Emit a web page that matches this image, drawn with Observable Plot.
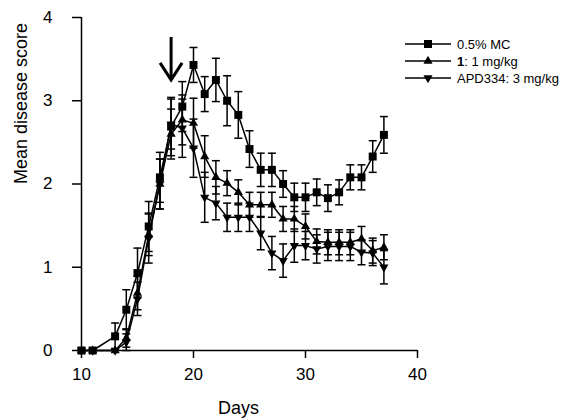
<!DOCTYPE html>
<html><head><meta charset="utf-8">
<script src="https://cdn.jsdelivr.net/npm/d3@7"></script>
<script src="https://cdn.jsdelivr.net/npm/@observablehq/plot@0.6"></script>
<style>body{margin:0;background:#fff}</style>
</head><body><div id="chart"></div>
<script>
const days = [10,11,13,14,15,16,17,18,19,20,21,22,23,24,25,26,27,28,29,30,31,32,33,34,35,36,37];
const mcValues = [0,0,0.17,0.49,0.93,1.49,2.08,2.69,2.93,3.43,3.08,3.25,3.0,2.83,2.42,2.17,2.17,2.0,1.84,1.84,1.9,1.83,1.9,2.08,2.08,2.33,2.59];
const mcErrors = [0,0,0.16,0.24,0.3,0.3,0.3,0.35,0.3,0.21,0.21,0.26,0.3,0.28,0.22,0.2,0.2,0.16,0.17,0.17,0.16,0.16,0.15,0.15,0.15,0.19,0.22];
const cmpdValues = [0,0,0,0.15,0.69,1.39,2.0,2.6,2.77,2.73,2.33,2.08,2.01,1.9,1.75,1.75,1.75,1.58,1.58,1.49,1.31,1.3,1.3,1.3,1.34,1.2,1.24];
const cmpdErrors = [0,0,0,0.11,0.2,0.25,0.3,0.3,0.3,0.3,0.25,0.2,0.15,0.15,0.15,0.15,0.15,0.15,0.15,0.15,0.15,0.15,0.15,0.15,0.15,0.15,0.15];
const apdValues = [0,0,0,0.1,0.62,1.35,2.0,2.72,2.67,2.43,1.84,1.77,1.6,1.6,1.6,1.41,1.17,1.08,1.26,1.26,1.22,1.25,1.25,1.25,1.18,1.17,1.0];
const apdErrors = [0,0,0,0.1,0.2,0.3,0.3,0.3,0.35,0.35,0.3,0.2,0.17,0.17,0.17,0.2,0.2,0.2,0.2,0.17,0.17,0.17,0.17,0.17,0.15,0.15,0.2];
const seriesNames = ["0.5% MC", "1: 1 mg/kg", "APD334: 3 mg/kg"];
const xTicks = [10,20,30,40];
const yTicks = [0,1,2,3,4];
const arrowDay = [18];
const arrowFrom = [3.76];
const arrowTo = [3.25];

function rows(vals, errs, name) {
  return days.map((d, i) => ({day: d, value: vals[i], err: errs[i], series: name}));
}
const mc = rows(mcValues, mcErrors, seriesNames[0]);
const cmpd = rows(cmpdValues, cmpdErrors, seriesNames[1]);
const apd = rows(apdValues, apdErrors, seriesNames[2]);
const all = [...mc, ...cmpd, ...apd];
const withErr = all.filter(d => d.err > 0);

const capSymbol = {draw(ctx, size) { const w = Math.sqrt(size / Math.PI); ctx.moveTo(-w, 0); ctx.lineTo(w, 0); }};
const headSymbol = {draw(ctx, size) { const w = Math.sqrt(size / Math.PI); ctx.moveTo(-w, -w * 1.55); ctx.lineTo(0, 0); ctx.lineTo(w, -w * 1.55); }};
const arrowData = arrowDay.map((d, i) => ({day: d, from: arrowFrom[i], to: arrowTo[i]}));

const font = "'Liberation Sans', Arial, sans-serif";
const plot = Plot.plot({
  width: 571, height: 418,
  marginLeft: 81, marginRight: 154, marginTop: 17, marginBottom: 68,
  style: {fontFamily: font, color: "#000", background: "#fff"},
  x: {domain: [10, 40]},
  y: {domain: [0, 4]},
  marks: [
    Plot.axisX({ticks: xTicks, tickFormat: d => String(d), tickSize: 8, tickPadding: 9, fontSize: 17, label: null, strokeWidth: 1.5}),
    Plot.axisY({ticks: yTicks, tickFormat: d => String(d), tickSize: 9, tickPadding: 20, fontSize: 17, label: null, strokeWidth: 1.5}),
    Plot.ruleX([10], {y1: 0, y2: 4, strokeWidth: 1.5}),
    Plot.ruleY([0], {x1: 10, x2: 40, strokeWidth: 1.5}),
    Plot.text(["Mean disease score"], {frameAnchor: "left", rotate: -90, dx: -60, fontSize: 18}),
    Plot.text(["Days"], {frameAnchor: "bottom", dy: 63, dx: -11, fontSize: 18}),
    Plot.ruleX(withErr, {x: "day", y1: d => d.value - d.err, y2: d => d.value + d.err, stroke: "#000", strokeWidth: 1.5}),
    Plot.dot(withErr, {x: "day", y: d => d.value + d.err, symbol: capSymbol, r: 4, stroke: "#000", fill: "none", strokeWidth: 1.5}),
    Plot.dot(withErr, {x: "day", y: d => d.value - d.err, symbol: capSymbol, r: 4, stroke: "#000", fill: "none", strokeWidth: 1.5}),
    Plot.line(apd, {x: "day", y: "value", stroke: "#000", strokeWidth: 1.5}),
    Plot.line(cmpd, {x: "day", y: "value", stroke: "#000", strokeWidth: 1.5}),
    Plot.line(mc, {x: "day", y: "value", stroke: "#000", strokeWidth: 1.5}),
    Plot.dot(apd, {x: "day", y: "value", symbol: "triangle", rotate: 180, r: 3.4, fill: "#000", stroke: "none"}),
    Plot.dot(cmpd, {x: "day", y: "value", symbol: "triangle", r: 3.4, fill: "#000", stroke: "none"}),
    Plot.dot(mc, {x: "day", y: "value", symbol: "square", r: 4.5, fill: "#000", stroke: "none"}),
    Plot.ruleX(arrowData, {x: "day", y1: "from", y2: "to", stroke: "#000", strokeWidth: 3}),
    Plot.dot(arrowData, {x: "day", y: "to", symbol: headSymbol, r: 11, stroke: "#000", fill: "none", strokeWidth: 3, strokeLinejoin: "miter"})
  ]
});
document.getElementById("chart").appendChild(plot);

// legend
const svg = d3.select(plot);
const leg = svg.append("g").attr("font-family", font).attr("font-size", 13).attr("text-anchor", "start");
const legendSymbols = [d3.symbolSquare, d3.symbolTriangle, d3.symbolTriangle];
const legendSizes = [64, 36, 36];
const legendRot = [0, 0, 180];
seriesNames.forEach((name, i) => {
  const y = 44 + i * 17;
  leg.append("line").attr("x1", 405).attr("x2", 451).attr("y1", y).attr("y2", y).attr("stroke", "#000").attr("stroke-width", 1.5);
  leg.append("path").attr("d", d3.symbol(legendSymbols[i], legendSizes[i])()).attr("transform", `translate(428,${y}) rotate(${legendRot[i]})`).attr("fill", "#000");
  const t = leg.append("text").attr("x", 457).attr("y", y).attr("dy", "0.35em");
  if (i === 1) {
    t.append("tspan").attr("font-weight", "bold").text("1");
    t.append("tspan").text(name.slice(1));
  } else t.text(name);
});
</script>
</body></html>
